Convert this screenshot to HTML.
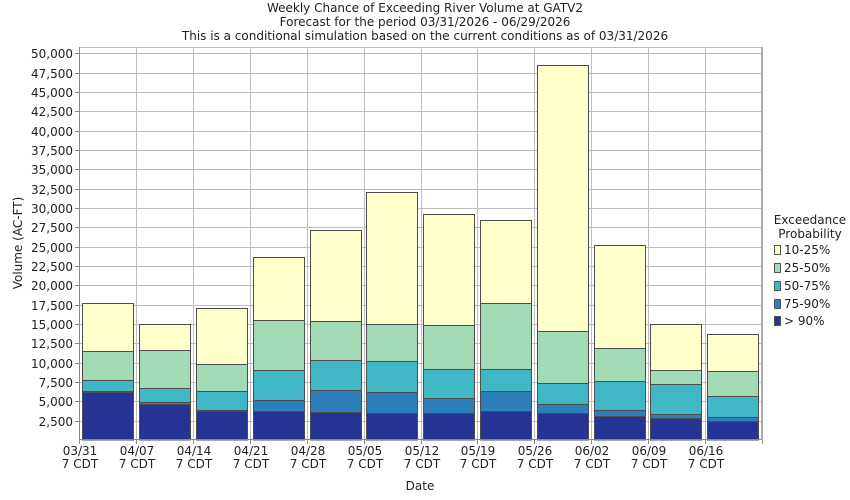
<!DOCTYPE html>
<html><head><meta charset="utf-8"><style>
html,body{margin:0;padding:0;background:#fff;}
svg{display:block;font-family:"DejaVu Sans","Liberation Sans",sans-serif;}
</style></head><body>
<svg width="850" height="500" viewBox="0 0 850 500" xmlns="http://www.w3.org/2000/svg">
<rect width="850" height="500" fill="#fff"/>
<g font-size="12" fill="#222" text-anchor="middle">
<text x="425" y="12">Weekly Chance of Exceeding River Volume at GATV2</text>
<text x="425" y="26">Forecast for the period 03/31/2026 - 06/29/2026</text>
<text x="425" y="40">This is a conditional simulation based on the current conditions as of 03/31/2026</text>
</g>
<g stroke="#bdbdbd" stroke-width="1" fill="none">
<line x1="79" y1="47.5" x2="762" y2="47.5"/>
<line x1="79" y1="421.5" x2="762" y2="421.5"/>
<line x1="79" y1="401.5" x2="762" y2="401.5"/>
<line x1="79" y1="382.5" x2="762" y2="382.5"/>
<line x1="79" y1="363.5" x2="762" y2="363.5"/>
<line x1="79" y1="343.5" x2="762" y2="343.5"/>
<line x1="79" y1="324.5" x2="762" y2="324.5"/>
<line x1="79" y1="305.5" x2="762" y2="305.5"/>
<line x1="79" y1="285.5" x2="762" y2="285.5"/>
<line x1="79" y1="266.5" x2="762" y2="266.5"/>
<line x1="79" y1="247.5" x2="762" y2="247.5"/>
<line x1="79" y1="227.5" x2="762" y2="227.5"/>
<line x1="79" y1="208.5" x2="762" y2="208.5"/>
<line x1="79" y1="189.5" x2="762" y2="189.5"/>
<line x1="79" y1="169.5" x2="762" y2="169.5"/>
<line x1="79" y1="150.5" x2="762" y2="150.5"/>
<line x1="79" y1="131.5" x2="762" y2="131.5"/>
<line x1="79" y1="111.5" x2="762" y2="111.5"/>
<line x1="79" y1="92.5" x2="762" y2="92.5"/>
<line x1="79" y1="73.5" x2="762" y2="73.5"/>
<line x1="79" y1="53.5" x2="762" y2="53.5"/>
<line x1="136.5" y1="47" x2="136.5" y2="440"/>
<line x1="193.5" y1="47" x2="193.5" y2="440"/>
<line x1="250.5" y1="47" x2="250.5" y2="440"/>
<line x1="307.5" y1="47" x2="307.5" y2="440"/>
<line x1="364.5" y1="47" x2="364.5" y2="440"/>
<line x1="421.5" y1="47" x2="421.5" y2="440"/>
<line x1="477.5" y1="47" x2="477.5" y2="440"/>
<line x1="534.5" y1="47" x2="534.5" y2="440"/>
<line x1="591.5" y1="47" x2="591.5" y2="440"/>
<line x1="648.5" y1="47" x2="648.5" y2="440"/>
<line x1="705.5" y1="47" x2="705.5" y2="440"/>
</g>
<g stroke="#888" stroke-width="1">
<line x1="75" y1="421.5" x2="79" y2="421.5"/>
<line x1="75" y1="401.5" x2="79" y2="401.5"/>
<line x1="75" y1="382.5" x2="79" y2="382.5"/>
<line x1="75" y1="363.5" x2="79" y2="363.5"/>
<line x1="75" y1="343.5" x2="79" y2="343.5"/>
<line x1="75" y1="324.5" x2="79" y2="324.5"/>
<line x1="75" y1="305.5" x2="79" y2="305.5"/>
<line x1="75" y1="285.5" x2="79" y2="285.5"/>
<line x1="75" y1="266.5" x2="79" y2="266.5"/>
<line x1="75" y1="247.5" x2="79" y2="247.5"/>
<line x1="75" y1="227.5" x2="79" y2="227.5"/>
<line x1="75" y1="208.5" x2="79" y2="208.5"/>
<line x1="75" y1="189.5" x2="79" y2="189.5"/>
<line x1="75" y1="169.5" x2="79" y2="169.5"/>
<line x1="75" y1="150.5" x2="79" y2="150.5"/>
<line x1="75" y1="131.5" x2="79" y2="131.5"/>
<line x1="75" y1="111.5" x2="79" y2="111.5"/>
<line x1="75" y1="92.5" x2="79" y2="92.5"/>
<line x1="75" y1="73.5" x2="79" y2="73.5"/>
<line x1="75" y1="53.5" x2="79" y2="53.5"/>
<line x1="79.5" y1="440" x2="79.5" y2="444"/>
<line x1="136.5" y1="440" x2="136.5" y2="444"/>
<line x1="193.5" y1="440" x2="193.5" y2="444"/>
<line x1="250.5" y1="440" x2="250.5" y2="444"/>
<line x1="307.5" y1="440" x2="307.5" y2="444"/>
<line x1="364.5" y1="440" x2="364.5" y2="444"/>
<line x1="421.5" y1="440" x2="421.5" y2="444"/>
<line x1="477.5" y1="440" x2="477.5" y2="444"/>
<line x1="534.5" y1="440" x2="534.5" y2="444"/>
<line x1="591.5" y1="440" x2="591.5" y2="444"/>
<line x1="648.5" y1="440" x2="648.5" y2="444"/>
<line x1="705.5" y1="440" x2="705.5" y2="444"/>
<line x1="762.5" y1="440" x2="762.5" y2="444"/>
</g>
<g font-size="12" fill="#222" text-anchor="end">
<text x="73" y="426">2,500</text>
<text x="73" y="406">5,000</text>
<text x="73" y="387">7,500</text>
<text x="73" y="368">10,000</text>
<text x="73" y="348">12,500</text>
<text x="73" y="329">15,000</text>
<text x="73" y="310">17,500</text>
<text x="73" y="290">20,000</text>
<text x="73" y="271">22,500</text>
<text x="73" y="252">25,000</text>
<text x="73" y="232">27,500</text>
<text x="73" y="213">30,000</text>
<text x="73" y="194">32,500</text>
<text x="73" y="174">35,000</text>
<text x="73" y="155">37,500</text>
<text x="73" y="136">40,000</text>
<text x="73" y="116">42,500</text>
<text x="73" y="97">45,000</text>
<text x="73" y="78">47,500</text>
<text x="73" y="58">50,000</text>
</g>
<g font-size="12" fill="#222" text-anchor="middle">
<text x="80" y="455">03/31</text><text x="80" y="468">7 CDT</text>
<text x="137" y="455">04/07</text><text x="137" y="468">7 CDT</text>
<text x="194" y="455">04/14</text><text x="194" y="468">7 CDT</text>
<text x="251" y="455">04/21</text><text x="251" y="468">7 CDT</text>
<text x="308" y="455">04/28</text><text x="308" y="468">7 CDT</text>
<text x="365" y="455">05/05</text><text x="365" y="468">7 CDT</text>
<text x="422" y="455">05/12</text><text x="422" y="468">7 CDT</text>
<text x="478" y="455">05/19</text><text x="478" y="468">7 CDT</text>
<text x="535" y="455">05/26</text><text x="535" y="468">7 CDT</text>
<text x="592" y="455">06/02</text><text x="592" y="468">7 CDT</text>
<text x="649" y="455">06/09</text><text x="649" y="468">7 CDT</text>
<text x="706" y="455">06/16</text><text x="706" y="468">7 CDT</text>
</g>
<g stroke="#4d4d4d" stroke-width="1">
<!-- bar 1 -->
<rect x="82.5" y="303.5" width="51" height="136.5" fill="#ffffcc"/>
<rect x="82.5" y="351.5" width="51" height="88.5" fill="#a1dab4"/>
<rect x="82.5" y="380.5" width="51" height="59.5" fill="#41b6c4"/>
<rect x="82.5" y="391.5" width="51" height="48.5" fill="#2c7fb8"/>
<rect x="82.5" y="392.5" width="51" height="47.5" fill="#253494"/>
<!-- bar 2 -->
<rect x="139.5" y="324.5" width="51" height="115.5" fill="#ffffcc"/>
<rect x="139.5" y="350.5" width="51" height="89.5" fill="#a1dab4"/>
<rect x="139.5" y="388.5" width="51" height="51.5" fill="#41b6c4"/>
<rect x="139.5" y="402.5" width="51" height="37.5" fill="#2c7fb8"/>
<rect x="139.5" y="404.5" width="51" height="35.5" fill="#253494"/>
<!-- bar 3 -->
<rect x="196.5" y="308.5" width="51" height="131.5" fill="#ffffcc"/>
<rect x="196.5" y="364.5" width="51" height="75.5" fill="#a1dab4"/>
<rect x="196.5" y="391.5" width="51" height="48.5" fill="#41b6c4"/>
<rect x="196.5" y="410.5" width="51" height="29.5" fill="#2c7fb8"/>
<rect x="196.5" y="411.5" width="51" height="28.5" fill="#253494"/>
<!-- bar 4 -->
<rect x="253.5" y="257.5" width="51" height="182.5" fill="#ffffcc"/>
<rect x="253.5" y="320.5" width="51" height="119.5" fill="#a1dab4"/>
<rect x="253.5" y="370.5" width="51" height="69.5" fill="#41b6c4"/>
<rect x="253.5" y="400.5" width="51" height="39.5" fill="#2c7fb8"/>
<rect x="253.5" y="411.5" width="51" height="28.5" fill="#253494"/>
<!-- bar 5 -->
<rect x="310.5" y="230.5" width="51" height="209.5" fill="#ffffcc"/>
<rect x="310.5" y="321.5" width="51" height="118.5" fill="#a1dab4"/>
<rect x="310.5" y="360.5" width="51" height="79.5" fill="#41b6c4"/>
<rect x="310.5" y="390.5" width="51" height="49.5" fill="#2c7fb8"/>
<rect x="310.5" y="412.5" width="51" height="27.5" fill="#253494"/>
<!-- bar 6 -->
<rect x="366.5" y="192.5" width="51" height="247.5" fill="#ffffcc"/>
<rect x="366.5" y="324.5" width="51" height="115.5" fill="#a1dab4"/>
<rect x="366.5" y="361.5" width="51" height="78.5" fill="#41b6c4"/>
<rect x="366.5" y="392.5" width="51" height="47.5" fill="#2c7fb8"/>
<rect x="366.5" y="413.5" width="51" height="26.5" fill="#253494"/>
<!-- bar 7 -->
<rect x="423.5" y="214.5" width="51" height="225.5" fill="#ffffcc"/>
<rect x="423.5" y="325.5" width="51" height="114.5" fill="#a1dab4"/>
<rect x="423.5" y="369.5" width="51" height="70.5" fill="#41b6c4"/>
<rect x="423.5" y="398.5" width="51" height="41.5" fill="#2c7fb8"/>
<rect x="423.5" y="413.5" width="51" height="26.5" fill="#253494"/>
<!-- bar 8 -->
<rect x="480.5" y="220.5" width="51" height="219.5" fill="#ffffcc"/>
<rect x="480.5" y="303.5" width="51" height="136.5" fill="#a1dab4"/>
<rect x="480.5" y="369.5" width="51" height="70.5" fill="#41b6c4"/>
<rect x="480.5" y="391.5" width="51" height="48.5" fill="#2c7fb8"/>
<rect x="480.5" y="411.5" width="51" height="28.5" fill="#253494"/>
<!-- bar 9 -->
<rect x="537.5" y="65.5" width="51" height="374.5" fill="#ffffcc"/>
<rect x="537.5" y="331.5" width="51" height="108.5" fill="#a1dab4"/>
<rect x="537.5" y="383.5" width="51" height="56.5" fill="#41b6c4"/>
<rect x="537.5" y="404.5" width="51" height="35.5" fill="#2c7fb8"/>
<rect x="537.5" y="413.5" width="51" height="26.5" fill="#253494"/>
<!-- bar 10 -->
<rect x="594.5" y="245.5" width="51" height="194.5" fill="#ffffcc"/>
<rect x="594.5" y="348.5" width="51" height="91.5" fill="#a1dab4"/>
<rect x="594.5" y="381.5" width="51" height="58.5" fill="#41b6c4"/>
<rect x="594.5" y="410.5" width="51" height="29.5" fill="#2c7fb8"/>
<rect x="594.5" y="416.5" width="51" height="23.5" fill="#253494"/>
<!-- bar 11 -->
<rect x="650.5" y="324.5" width="51" height="115.5" fill="#ffffcc"/>
<rect x="650.5" y="370.5" width="51" height="69.5" fill="#a1dab4"/>
<rect x="650.5" y="384.5" width="51" height="55.5" fill="#41b6c4"/>
<rect x="650.5" y="414.5" width="51" height="25.5" fill="#2c7fb8"/>
<rect x="650.5" y="418.5" width="51" height="21.5" fill="#253494"/>
<!-- bar 12 -->
<rect x="707.5" y="334.5" width="51" height="105.5" fill="#ffffcc"/>
<rect x="707.5" y="371.5" width="51" height="68.5" fill="#a1dab4"/>
<rect x="707.5" y="396.5" width="51" height="43.5" fill="#41b6c4"/>
<rect x="707.5" y="417.5" width="51" height="22.5" fill="#2c7fb8"/>
<rect x="707.5" y="421.5" width="51" height="18.5" fill="#253494"/>
</g>
<g stroke-width="1">
<line x1="79.5" y1="47" x2="79.5" y2="440" stroke="#888"/>
<line x1="79" y1="439.5" x2="762" y2="439.5" stroke="#888"/>
<line x1="762" y1="47" x2="762" y2="440" stroke="#aaa" stroke-width="2"/>
</g>
<text x="420" y="490" font-size="12" fill="#222" text-anchor="middle">Date</text>
<text transform="translate(22,243) rotate(-90)" font-size="12" fill="#222" text-anchor="middle">Volume (AC-FT)</text>
<g font-size="12" fill="#222">
<text x="810" y="224" text-anchor="middle">Exceedance</text>
<text x="810" y="238" text-anchor="middle">Probability</text>
<rect x="774.5" y="245.5" width="6" height="9" fill="#ffffcc" stroke="#555"/>
<text x="784" y="254">10-25%</text>
<rect x="774.5" y="263.5" width="6" height="9" fill="#a1dab4" stroke="#555"/>
<text x="784" y="272">25-50%</text>
<rect x="774.5" y="281.5" width="6" height="9" fill="#41b6c4" stroke="#555"/>
<text x="784" y="290">50-75%</text>
<rect x="774.5" y="299.5" width="6" height="9" fill="#2c7fb8" stroke="#555"/>
<text x="784" y="308">75-90%</text>
<rect x="774.5" y="316.5" width="6" height="9" fill="#253494" stroke="#555"/>
<text x="784" y="325">&gt; 90%</text>
</g>
</svg>
</body></html>
